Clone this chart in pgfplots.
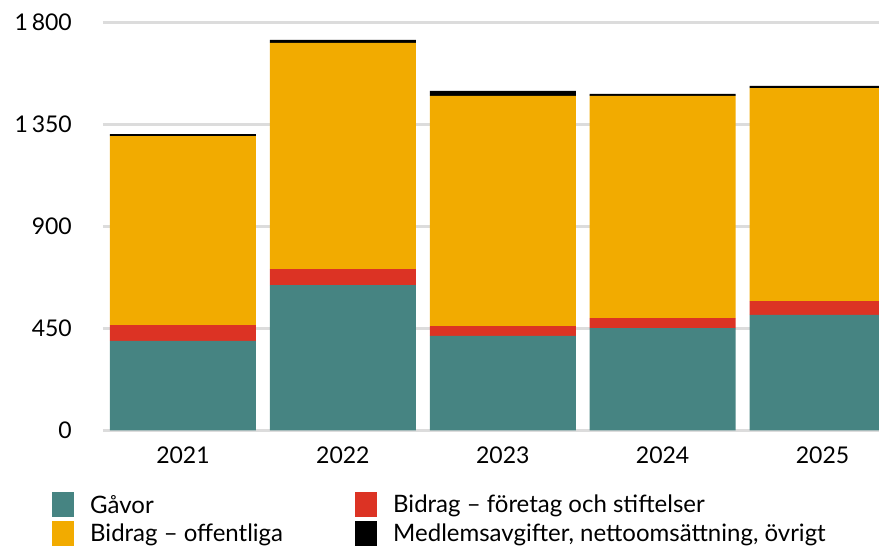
\documentclass[border=0pt]{standalone}
\usepackage{pgfplots}
\pgfplotsset{compat=1.18}
\usepackage{pgfplotstable}
\usepackage{fontspec}
\setmainfont{Lato}
\definecolor{cgavor}{HTML}{468482}
\definecolor{cforetag}{HTML}{DC3324}
\definecolor{coffentl}{HTML}{F2AB00}
\definecolor{cmedlem}{HTML}{000000}
\definecolor{cgrid}{HTML}{DCDCDC}

% year index, Gåvor, företag/stiftelser, offentliga, medlemsavgifter m.m.
\pgfplotstableread{
x gavor foretag offentl medlem
0 395 70 834 9
1 641 71 998 13
2 417 44 1015 22
3 452 44 980 9
4 510 61 940 9
}\intakter

\begin{document}
\begin{tikzpicture}
\useasboundingbox (0,0) rectangle (879pt,546pt);
\begin{axis}[
  at={(103pt,115.5pt)}, anchor=south west,
  scale only axis, width=776pt, height=408pt,
  ybar stacked, bar width=146pt,
  xmin=-0.5, xmax=4.353,
  ymin=0, ymax=1800,
  ytick={0,450,900,1350,1800},
  yticklabels={0,450,900,1\,350,1\,800},
  xtick=data,
  xticklabels={2021,2022,2023,2024,2025},
  major tick length=0pt,
  axis line style={draw=none},
  ymajorgrids, grid style={cgrid,line width=2.6pt},
  tick label style={font=\fontsize{23}{27}\selectfont},
  yticklabel style={anchor=east,inner xsep=0pt,xshift=-31pt},
  xticklabel style={anchor=north,yshift=-13pt},
  /pgf/number format/assume math mode=true,
  legend columns=2,
  legend style={at={(axis description cs:-0.0657,-0.151)},anchor=north west,
    draw=none,fill=none,inner sep=0pt,
    font=\fontsize{24}{28}\selectfont,
    column sep=0pt,row sep=3.5pt,
    nodes={inner xsep=0pt,inner ysep=0pt}},
  legend cell align=left,
  legend image code/.code={%
    \fill[#1] (0pt,-12.5pt) rectangle (22pt,12.5pt);
    \path (38pt,0pt);},
]
\addplot[fill=cgavor,draw=none] table[x=x,y=gavor] {\intakter};
\addlegendentry{\makebox[265pt][l]{Gåvor}}
\addplot[fill=cforetag,draw=none] table[x=x,y=foretag] {\intakter};
\addlegendentry{Bidrag – företag och stiftelser}
\addplot[fill=coffentl,draw=none] table[x=x,y=offentl] {\intakter};
\addlegendentry{\makebox[265pt][l]{Bidrag – offentliga}}
\addplot[fill=cmedlem,draw=none] table[x=x,y=medlem] {\intakter};
\addlegendentry{Medlemsavgifter, nettoomsättning, övrigt}
\end{axis}
\end{tikzpicture}
\end{document}
